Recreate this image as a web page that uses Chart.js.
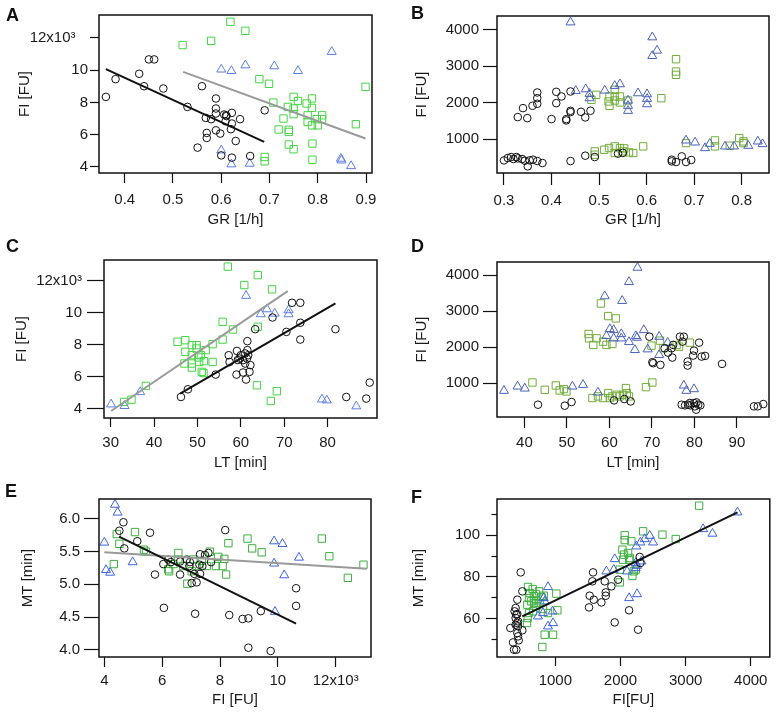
<!DOCTYPE html>
<html>
<head>
<meta charset="utf-8">
<script src="https://cdn.jsdelivr.net/npm/chart.js@4.4.1/dist/chart.umd.min.js"></script>
<style>
body { margin: 0; background: #fff; }
#wrap { position: relative; width: 776px; height: 717px; font-family: 'Liberation Sans', Arial, sans-serif; }
canvas { position: absolute; }
.tag { position: absolute; font-weight: bold; font-size: 18px; line-height: 18px; color: #111; }
</style>
</head>
<body>
<div id="wrap">
  <canvas id="panelA" width="388" height="235" style="left:0px;top:0px"></canvas>
  <canvas id="panelB" width="388" height="235" style="left:388px;top:0px"></canvas>
  <canvas id="panelC" width="388" height="240" style="left:0px;top:235px"></canvas>
  <canvas id="panelD" width="388" height="240" style="left:388px;top:235px"></canvas>
  <canvas id="panelE" width="388" height="242" style="left:0px;top:475px"></canvas>
  <canvas id="panelF" width="388" height="242" style="left:388px;top:475px"></canvas>
  <div class="tag" style="left:6px;top:6px">A</div>
  <div class="tag" style="left:411px;top:4px">B</div>
  <div class="tag" style="left:6px;top:237px">C</div>
  <div class="tag" style="left:411px;top:237px">D</div>
  <div class="tag" style="left:5px;top:482px">E</div>
  <div class="tag" style="left:411px;top:488px">F</div>
</div>
<script>
// ---- panel A : FI vs GR ----
const aXTicks = [0.4, 0.5, 0.6, 0.7, 0.8, 0.9];
const aXLabels = ['0.4', '0.5', '0.6', '0.7', '0.8', '0.9'];
const aYTicks = [4, 6, 8, 10, 12];
const aYLabels = ['4', '6', '8', '10', '12x10³   '];
const aCircles = [[0.361,8.34],[0.381,9.44],[0.430,9.77],[0.440,9.0],[0.450,10.66],[0.461,10.66],[0.480,8.86],[0.530,7.72],[0.560,9.0],[0.551,5.2],[0.568,7.04],[0.570,6.11],[0.570,5.8],[0.579,6.96],[0.589,8.24],[0.589,7.62],[0.589,7.31],[0.589,6.27],[0.598,6.07],[0.600,4.72],[0.606,7.25],[0.610,7.2],[0.611,7.15],[0.609,6.83],[0.622,7.35],[0.622,6.69],[0.620,6.34],[0.622,4.58],[0.630,5.61],[0.639,6.96],[0.660,4.68],[0.690,7.51]];
const aSquares = [[0.52,11.55],[0.579,11.81],[0.619,12.99],[0.65,12.43],[0.679,9.44],[0.699,9.15],[0.708,7.99],[0.729,7.0],[0.719,6.32],[0.738,7.72],[0.74,6.3],[0.74,6.17],[0.74,5.39],[0.75,5.1],[0.75,8.34],[0.75,7.62],[0.75,7.27],[0.759,8.09],[0.777,7.93],[0.779,7.2],[0.779,6.79],[0.788,8.24],[0.788,7.66],[0.788,6.58],[0.789,5.45],[0.789,4.45],[0.798,6.96],[0.80,6.58],[0.809,7.2],[0.809,6.96],[0.69,4.62],[0.69,4.35],[0.879,6.65],[0.899,8.96]];
const aTriangles = [[0.6,10.04],[0.621,9.95],[0.65,10.3],[0.71,10.24],[0.759,9.95],[0.829,11.13],[0.6,5.03],[0.621,4.17],[0.659,4.21],[0.848,4.52],[0.849,4.41],[0.869,4.06]];
const aBlackLine = [[0.361,10.06],[0.689,5.55]];
const aGrayLine = [[0.521,9.89],[0.899,5.76]];

// ---- panel B : FI vs GR ----
const bXTicks = [0.3, 0.4, 0.5, 0.6, 0.7, 0.8];
const bXLabels = ['0.3', '0.4', '0.5', '0.6', '0.7', '0.8'];
const bYTicks = [1000, 2000, 3000, 4000];
const bYLabels = ['1000', '2000', '3000', '4000'];
const bCircles = [[0.300,414],[0.308,478],[0.315,506],[0.320,451],[0.326,506],[0.329,469],[0.338,451],[0.344,405],[0.350,250],[0.354,414],[0.361,433],[0.370,396],[0.381,341],[0.329,1604],[0.349,1576],[0.340,1851],[0.360,1915],[0.370,1970],[0.370,2125],[0.370,2281],[0.400,1549],[0.410,1988],[0.410,2299],[0.421,2171],[0.431,1512],[0.431,1549],[0.440,2308],[0.440,1741],[0.440,1778],[0.462,1750],[0.471,1595],[0.482,1778],[0.440,396],[0.471,543],[0.491,506],[0.540,600],[0.550,620],[0.653,433],[0.653,387],[0.662,369],[0.674,524],[0.683,369],[0.694,424]];
const bSquares = [[0.484,2080],[0.494,2217],[0.522,2171],[0.520,2034],[0.522,1915],[0.533,2354],[0.533,2171],[0.533,2061],[0.544,2171],[0.544,2006],[0.561,2061],[0.631,2125],[0.662,3196],[0.662,2857],[0.662,2766],[0.491,661],[0.491,570],[0.511,707],[0.521,753],[0.533,799],[0.533,616],[0.544,753],[0.551,661],[0.553,744],[0.563,634],[0.572,616],[0.593,799],[0.683,890],[0.744,963],[0.744,799],[0.775,817],[0.795,1027],[0.804,890],[0.804,936]];
const bTriangles = [[0.44,4211],[0.451,2327],[0.472,2372],[0.48,2244],[0.48,2125],[0.512,2336],[0.533,2464],[0.544,2510],[0.561,2061],[0.561,1915],[0.561,1778],[0.582,2262],[0.601,2235],[0.601,2107],[0.601,1961],[0.612,3800],[0.612,3287],[0.622,3434],[0.683,963],[0.702,909],[0.723,753],[0.733,872],[0.765,799],[0.784,799],[0.814,817],[0.834,936],[0.844,863]];

// ---- panel C : FI vs LT ----
const cXTicks = [30, 40, 50, 60, 70, 80];
const cXLabels = ['30', '40', '50', '60', '70', '80'];
const cYTicks = [4, 6, 8, 10, 12];
const cYLabels = ['4', '6', '8', '10', '12x10³'];
const cCircles = [[46.2,4.73],[47.8,5.21],[54.2,6.13],[57.2,7.34],[57.4,6.92],[59.1,7.61],[59.3,7.04],[59.7,7.13],[59.0,6.13],[60.0,7.34],[60.5,7.03],[61.0,7.45],[61.0,6.82],[60.5,6.26],[61.2,5.82],[61.5,8.22],[61.5,7.66],[61.7,7.34],[61.4,7.13],[62.2,6.72],[62.0,6.30],[63.3,8.97],[67.3,9.70],[70.5,8.80],[71.8,10.62],[73.7,10.62],[73.7,9.37],[73.7,8.32],[81.8,8.97],[84.3,4.73],[88.9,4.63],[89.7,5.63]];
const cSquares = [[38.1,5.42],[34.8,4.56],[33.1,4.42],[45.4,8.18],[47.2,8.28],[47.2,7.55],[47.0,6.82],[48.7,7.97],[48.7,7.34],[48.7,6.82],[48.7,6.57],[49.8,7.97],[49.8,7.76],[50.2,7.2],[50.4,6.92],[50.8,7.34],[51.0,6.30],[51.4,6.23],[51.5,6.97],[51.9,7.66],[53.5,8.03],[53.5,6.92],[55.8,8.32],[55.8,9.43],[57.0,12.88],[58.2,8.95],[60.8,11.73],[63.9,12.35],[63.9,9.12],[63.7,5.46],[67.2,11.46],[66.9,4.48],[68.3,5.09]];
const cTriangles = [[30.1,4.27],[33.2,4.17],[36.8,5.04],[61.2,11.06],[64.6,9.91],[66.0,10.22],[67.8,9.95],[71.0,10.16],[71.0,9.91],[78.7,4.58],[79.8,4.52],[86.6,4.15]];
const cBlackLine = [[46.0,4.94],[81.8,10.58]];
const cGrayLine = [[30.1,3.85],[70.8,11.35]];

// ---- panel D : FI vs LT ----
const dXTicks = [40, 50, 60, 70, 80, 90];
const dXLabels = ['40', '50', '60', '70', '80', '90'];
const dYTicks = [1000, 2000, 3000, 4000];
const dYLabels = ['1000', '2000', '3000', '4000'];
const dCircles = [[43.2,400],[49.5,372],[51.1,474],[61.1,520],[63.5,557],[65.0,492],[69.4,2292],[70.1,1582],[70.3,1554],[72.0,1508],[73.0,1969],[73.8,1849],[74.6,1969],[74.8,1711],[75.0,2062],[76.6,2292],[77.5,2292],[77.2,2154],[78.4,1600],[78.4,1489],[79.7,1766],[79.9,1905],[81.1,2126],[81.7,1738],[82.5,1757],[86.5,1535],[94.0,354],[94.9,354],[96.2,418],[77.0,400],[77.8,382],[78.5,400],[78.9,446],[79.0,382],[79.9,446],[80.1,354],[80.4,262],[80.5,465],[80.9,400],[81.4,382]];
const dSquares = [[41.9,1018],[44.8,815],[47.4,935],[48.3,797],[49.3,834],[49.9,769],[55.1,2366],[55.2,2246],[56.2,2062],[57.0,2246],[58.0,3215],[58.5,2154],[59.3,2062],[59.7,2865],[61.5,2800],[60.7,2089],[56.0,585],[57.3,631],[58.5,585],[59.7,723],[60.1,585],[60.7,631],[61.7,677],[62.4,631],[63.2,677],[64.1,723],[63.9,862],[64.6,631],[68.6,889],[70.1,1018],[69.9,2043],[71.9,2182],[72.7,1969],[75.8,2062],[76.4,2015],[78.9,2126]];
const dTriangles = [[35.2,788],[38.4,908],[40.1,852],[51.3,908],[53.8,954],[57.3,742],[58.9,3419],[64.6,3815],[66.6,4212],[63.0,3289],[60.1,2505],[61.0,2477],[59.3,2311],[61.0,2246],[62.8,2366],[62.8,2246],[64.6,2145],[66.2,2311],[66.5,2265],[66.0,1923],[68.1,2477],[69.0,1942],[71.7,2292],[71.7,1785],[73.7,2126],[77.5,935],[78.1,788],[79.9,834]];

// ---- panel E : MT vs FI ----
const eXTicks = [4, 6, 8, 10, 12];
const eXLabels = ['4', '6', '8', '10', '12x10³'];
const eYTicks = [4.0, 4.5, 5.0, 5.5, 6.0];
const eYLabels = ['4.0', '4.5', '5.0', '5.5', '6.0'];
const eCircles = [[4.52,5.82],[4.66,5.95],[4.69,5.55],[5.14,5.66],[5.58,5.79],[5.75,5.15],[6.06,4.64],[6.04,5.31],[6.21,5.38],[6.30,5.34],[6.62,5.15],[6.62,5.35],[6.85,5.38],[6.94,5.28],[6.96,5.34],[7.02,5.02],[7.11,5.16],[7.14,4.55],[7.19,5.03],[7.29,5.30],[7.31,5.16],[7.31,5.46],[7.39,5.28],[7.48,5.45],[7.60,5.48],[7.69,5.34],[8.18,5.83],[8.32,4.53],[8.78,4.47],[8.98,4.48],[8.98,4.03],[9.41,4.59],[9.75,3.98],[10.63,4.94],[10.63,4.67]];
const eSquares = [[4.33,5.31],[4.43,5.77],[4.52,5.62],[5.06,5.80],[5.37,5.53],[5.44,5.50],[6.21,5.23],[6.24,5.20],[6.39,5.31],[6.56,5.48],[6.56,5.38],[6.73,5.28],[6.87,5.01],[7.02,5.20],[7.08,5.38],[7.19,5.28],[7.37,5.36],[7.54,5.28],[7.65,5.50],[7.86,5.28],[7.94,5.42],[8.09,5.28],[8.15,5.39],[8.21,5.15],[8.29,5.63],[8.95,5.70],[9.11,5.55],[9.44,5.49],[11.52,5.70],[11.78,5.43],[12.42,5.10],[12.96,5.30]];
const eTriangles = [[4.0,5.64],[4.06,5.22],[4.2,5.18],[4.37,6.22],[4.46,6.10],[4.98,5.34],[9.87,5.66],[9.87,5.32],[10.16,5.62],[10.22,5.14],[9.9,4.58],[10.73,5.41]];
const eBlackLine = [[4.51,5.73],[10.63,4.40]];
const eGrayLine = [[4.0,5.49],[13.07,5.24]];

// ---- panel F : MT vs FI ----
const fXTicks = [1000, 2000, 3000, 4000];
const fXLabels = ['1000', '2000', '3000', '4000'];
const fYTicks = [60, 80, 100];
const fYLabels = ['60', '80', '100'];
const fYMinor = [50, 70, 90, 110];
const fCircles = [[309,55.5],[350,48.6],[365,45.1],[401,45.1],[375,63.5],[390,65.1],[400,62],[390,60.3],[416,57.9],[427,56.3],[416,53.1],[427,51.5],[437,49.6],[416,62.2],[390,57.1],[427,58.7],[416,69.1],[468,82.2],[493,54.4],[493,73.1],[1517,65.4],[1527,71],[1579,82.2],[1568,77.9],[1589,69.1],[1707,67.8],[1758,77.9],[1774,72.6],[1774,71],[1860,75.5],[1911,58.2],[1963,78.7],[2132,64],[2270,54.7],[2295,89.6],[2305,86.7]];
const fSquares = [[570,66.7],[580,75.2],[605,72.3],[595,69.9],[631,68.3],[565,57.9],[575,60.3],[596,62.7],[652,74.2],[672,70.7],[672,67.5],[698,71.8],[708,68.8],[749,73.1],[759,67.5],[785,70.4],[821,71],[810,64.6],[836,52.3],[800,46.4],[964,52.3],[1015,72],[1031,64],[708,66],[657,63.5],[887,62.7],[1988,77.4],[1988,83.5],[2029,93.1],[2039,88.3],[2054,90.7],[2065,97.7],[2065,100],[2116,91.5],[2142,89.1],[2167,97.1],[2183,80.6],[2203,82.7],[2234,83.5],[2347,101.9],[2644,100.3],[2848,98.2],[3207,114.2],[2132,88.3]];
const fTriangles = [[887,75.2],[821,69.9],[836,68.3],[733,61.1],[810,62.7],[887,56.3],[964,57.9],[957,63.5],[1783,82.7],[1911,88.6],[1896,83.5],[2101,82.7],[2132,69.9],[2254,71.8],[2234,84.3],[2234,86.7],[2254,85.4],[2244,94.7],[2306,96.6],[2372,98.2],[2449,99.8],[2500,96.6],[2321,87.5],[3268,103],[3412,100.8],[3796,111]];
const fBlackLine = [[493,61.1],[3796,111.0]];

const fontFamily = "'Liberation Sans', Arial, sans-serif";
const textColor = '#1a1a1a';

function toPoints(list) {
    return list.map(p => ({ x: p[0], y: p[1] }));
}

// box round the plot area
let framePlugin = {
    id: 'frame',
    afterDraw(chart) {
        let a = chart.chartArea;
        let c = chart.ctx;
        c.save();
        c.strokeStyle = '#111';
        c.lineWidth = 1.5;
        c.strokeRect(a.left, a.top, a.right - a.left, a.bottom - a.top);
        c.restore();
    }
};

function axis(s, horizontal) {
    return {
        type: 'linear',
        position: horizontal ? 'bottom' : 'left',
        min: s.min,
        max: s.max,
        afterBuildTicks: scale => { scale.ticks = s.ticks.map(v => ({ value: v })); },
        afterFit: scale => { if (horizontal) scale.height = s.size; else scale.width = s.size; },
        ticks: {
            padding: s.pad,
            color: textColor,
            autoSkip: false,
            maxRotation: 0,
            font: { family: fontFamily, size: 15 },
            callback: v => {
                let i = s.ticks.indexOf(v);
                return i >= 0 ? s.labels[i] : '';
            }
        },
        grid: { drawOnChartArea: false, tickLength: s.tickLen, tickColor: '#111', tickWidth: 1.2 },
        border: { display: false },
        title: {
            display: true,
            text: s.title,
            color: textColor,
            font: { family: fontFamily, size: 15 },
            padding: horizontal ? { top: 0, bottom: 0 } : { top: s.titlePad, bottom: 0 }
        }
    };
}

function makePanel(id, p) {
    let datasets = [];
    p.lines.forEach(l => {
        datasets.push({ data: toPoints(l.pts), showLine: true, pointRadius: 0, borderColor: l.color, borderWidth: 2 });
    });
    datasets.push({ data: toPoints(p.circles), pointStyle: 'circle', pointRadius: 3.8, borderColor: '#111', backgroundColor: 'rgba(0,0,0,0)', borderWidth: 1 });
    datasets.push({ data: toPoints(p.triangles), pointStyle: 'triangle', pointRadius: 5.2, borderColor: p.blue, backgroundColor: 'rgba(0,0,0,0)', borderWidth: 1 });
    datasets.push({ data: toPoints(p.squares), pointStyle: 'rect', pointRadius: 5.2, borderColor: p.green, backgroundColor: 'rgba(0,0,0,0)', borderWidth: 1 });

    let scales = { x: axis(p.x, true), y: axis(p.y, false) };
    if (p.minor) {
        scales.yMinor = {
            type: 'linear', position: 'left', weight: 0,
            min: p.y.min, max: p.y.max,
            afterBuildTicks: scale => { scale.ticks = p.minor.map(v => ({ value: v })); },
            afterFit: scale => { scale.width = 0; },
            ticks: { display: false },
            grid: { drawOnChartArea: false, tickLength: 5.5, tickColor: '#111', tickWidth: 1.2 },
            border: { display: false }
        };
        scales.y.weight = 1;
    }

    let ctx = document.getElementById(id).getContext('2d');
    new Chart(ctx, {
        type: 'scatter',
        data: { datasets: datasets },
        options: {
            responsive: false,
            animation: false,
            events: [],
            layout: { padding: p.pad },
            plugins: { legend: { display: false }, tooltip: { enabled: false } },
            scales: scales
        },
        plugins: [framePlugin]
    });
}

makePanel('panelA', {
    pad: { left: 0, right: 16, top: 15, bottom: 6 },
    x: { min: 0.3467, max: 0.9124, ticks: aXTicks, labels: aXLabels, tickLen: 10, pad: 8, size: 56, title: 'GR [1/h]' },
    y: { min: 3.628, max: 13.41, ticks: aYTicks, labels: aYLabels, tickLen: 9, pad: 2, size: 99, title: 'FI [FU]', titlePad: 16 },
    circles: aCircles, squares: aSquares, triangles: aTriangles,
    lines: [{ pts: aBlackLine, color: '#111' }, { pts: aGrayLine, color: '#9a9a9a' }],
    green: '#45d645', blue: '#5b7fe3'
});

makePanel('panelB', {
    pad: { left: 0, right: 7, top: 16, bottom: 6 },
    x: { min: 0.2853, max: 0.8576, ticks: bXTicks, labels: bXLabels, tickLen: 12, pad: 6.5, size: 56, title: 'GR [1/h]' },
    y: { min: 67, max: 4384, ticks: bYTicks, labels: bYLabels, tickLen: 14, pad: 4, size: 109, title: 'FI [FU]', titlePad: 24.7 },
    circles: bCircles, squares: bSquares, triangles: bTriangles,
    lines: [],
    green: '#72ad3a', blue: '#4a62b8'
});

makePanel('panelC', {
    pad: { left: 0, right: 11, top: 25, bottom: 2.7 },
    x: { min: 28.46, max: 91.38, ticks: cXTicks, labels: cXLabels, tickLen: 9, pad: 7.3, size: 54.3, title: 'LT [min]' },
    y: { min: 3.415, max: 13.295, ticks: cYTicks, labels: cYLabels, tickLen: 17, pad: 5, size: 104, title: 'FI [FU]', titlePad: 13.3 },
    circles: cCircles, squares: cSquares, triangles: cTriangles,
    lines: [{ pts: cBlackLine, color: '#111' }, { pts: cGrayLine, color: '#9a9a9a' }],
    green: '#45d645', blue: '#5b7fe3'
});

makePanel('panelD', {
    pad: { left: 0, right: 7, top: 27, bottom: 2.7 },
    x: { min: 33.56, max: 97.54, ticks: dXTicks, labels: dXLabels, tickLen: 11, pad: 6.3, size: 55.3, title: 'LT [min]' },
    y: { min: 58, max: 4369, ticks: dYTicks, labels: dYLabels, tickLen: 14, pad: 4, size: 109, title: 'FI [FU]', titlePad: 24.7 },
    circles: dCircles, squares: dSquares, triangles: dTriangles,
    lines: [],
    green: '#72ad3a', blue: '#4a62b8'
});

makePanel('panelE', {
    pad: { left: 0, right: 17, top: 24, bottom: 8 },
    x: { min: 3.816, max: 13.22, ticks: eXTicks, labels: eXLabels, tickLen: 10, pad: 4.7, size: 52, title: 'FI [FU]' },
    y: { min: 3.888, max: 6.306, ticks: eYTicks, labels: eYLabels, tickLen: 15, pad: 4, size: 99, title: 'MT [min]', titlePad: 19.3 },
    circles: eCircles, squares: eSquares, triangles: eTriangles,
    lines: [{ pts: eBlackLine, color: '#111' }, { pts: eGrayLine, color: '#9a9a9a' }],
    green: '#3fae3f', blue: '#3d63db'
});

makePanel('panelF', {
    pad: { left: 0, right: 6, top: 24, bottom: 8 },
    x: { min: 104, max: 4292, ticks: fXTicks, labels: fXLabels, tickLen: 9, pad: 5.7, size: 52, title: 'FI[FU]' },
    y: { min: 41.6, max: 117.4, ticks: fYTicks, labels: fYLabels, tickLen: 11, pad: 6, size: 109, title: 'MT [min]', titlePad: 22.3 },
    minor: fYMinor,
    circles: fCircles, squares: fSquares, triangles: fTriangles,
    lines: [{ pts: fBlackLine, color: '#111' }],
    green: '#3fae3f', blue: '#3d63db'
});
</script>
</body>
</html>
